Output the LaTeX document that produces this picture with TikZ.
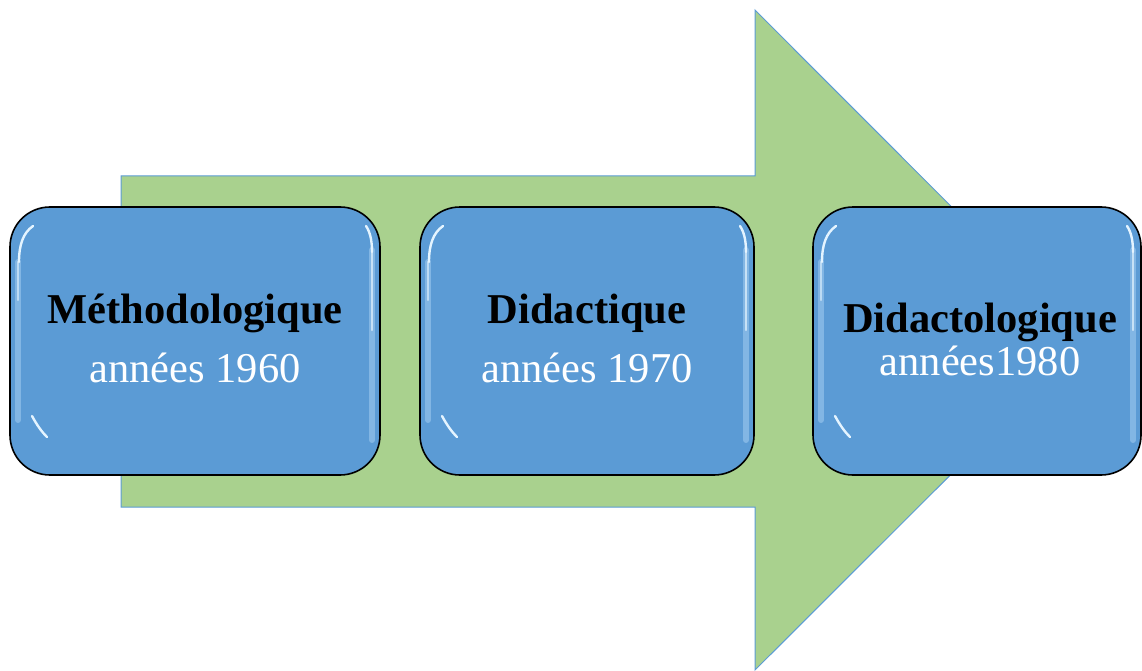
\documentclass[tikz,border=0pt]{standalone}
\usepackage{fontspec}
\setmainfont{Liberation Serif}
\definecolor{boxblue}{HTML}{5B9BD5}
\definecolor{arrowgreen}{HTML}{A9D18E}
\definecolor{glow}{HTML}{E4F4FF}
\definecolor{softglow}{HTML}{9CC8EE}
\tikzset{
  stagebox/.style={draw=black, line width=1.6pt, fill=boxblue, rounded corners=40pt, inner sep=0pt, rectangle},
  titletext/.style={anchor=base, font=\fontsize{42.5}{46}\selectfont\bfseries, text=black, inner sep=0pt},
  yeartext/.style={anchor=base, font=\fontsize{42.5}{46}\selectfont, text=white, inner sep=0pt},
  gloss/.style={draw=glow, line width=2.4pt, line cap=round},
  softgloss/.style={draw=softglow, line width=6pt, line cap=round},
}
\begin{document}
\begin{tikzpicture}[x=1pt,y=-1pt]
\useasboundingbox (0,0) rectangle (1142,671);
% big arrow
\path[fill=arrowgreen, draw=boxblue, line width=1pt]
  (121,176) coordinate (a1) -- (755,176) -- (755,10) -- (1085,340.5) coordinate (tip)
  -- (755,670) -- (755,507) -- (121,507) -- cycle;
% boxes
\node[stagebox, minimum width=370pt, minimum height=268pt] (b1) at (195,341) {};
\node[stagebox, minimum width=334pt, minimum height=268pt] (b2) at (587,341) {};
\node[stagebox, minimum width=328pt, minimum height=268pt] (b3) at (977,341) {};
% gloss highlights
\foreach \l/\r in {10/380, 420/754, 813/1141}{
  \draw[softgloss, opacity=0.6] (\l+8,262) -- (\l+8,420);
  \draw[softgloss, opacity=0.6] (\r-8,250) -- (\r-8,440);
  \draw[gloss] (\l+9,262) .. controls (\l+9,245) and (\l+13,233) .. (\l+23,226);
  \draw[gloss, opacity=0.6] (\l+8,262) -- (\l+8,300);
  \draw[gloss] (\l+22,416) .. controls (\l+27,425) and (\l+31,431) .. (\l+37,437);
  \draw[gloss, opacity=0.7] (\r-8,252) -- (\r-8,330);
  \draw[gloss] (\r-8,252) .. controls (\r-8,240) and (\r-10,232) .. (\r-14,226);
}
% texts
\node[titletext] (t1) at (195,323) {Méthodologique};
\node[yeartext] (y1) at (195,382) {années 1960};
\node[titletext] (t2) at (587,323) {Didactique};
\node[yeartext] (y2) at (587,382) {années 1970};
\node[titletext] (t3) at (980,332) {Didactologique};
\node[yeartext] (y3) at (980,375) {années1980};
\end{tikzpicture}
\end{document}
